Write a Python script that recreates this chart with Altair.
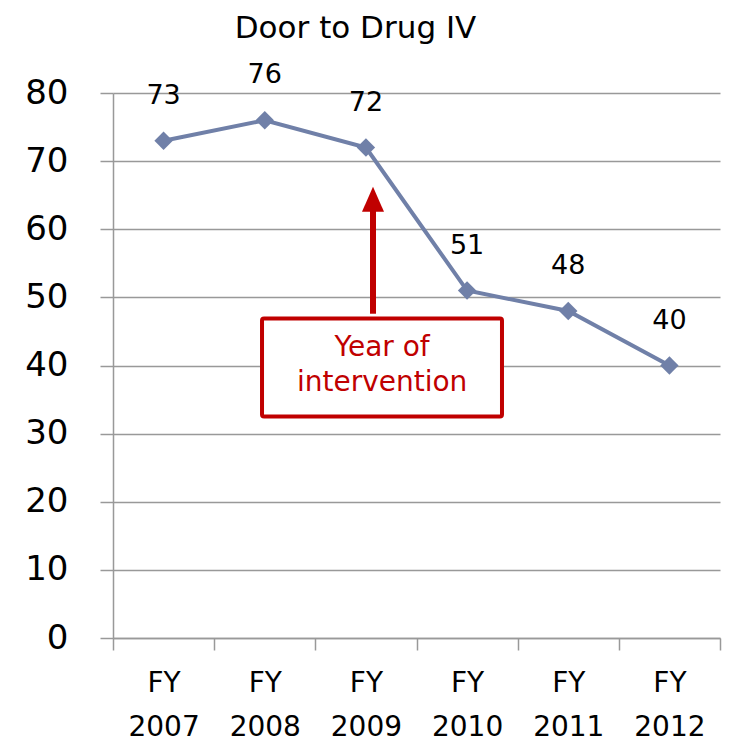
import altair as alt
import pandas as pd

years = ["FY 2007", "FY 2008", "FY 2009", "FY 2010", "FY 2011", "FY 2012"]
values = [73, 76, 72, 51, 48, 40]
y_ticks = [0, 10, 20, 30, 40, 50, 60, 70, 80]

# annotation (in band units 0..6 on x, data units on y)
box_x = [1.473]
box_x2 = [3.845]
box_y = [46.9]
box_y2 = [32.5]
arrow_x = [2.57]
arrow_y_bottom = [47.6]
arrow_y_top = [63.5]
arrow_head_y = [64.4]
note_text = ["Year of\nintervention"]
note_x = [2.66]
note_y = [42.6]

df = pd.DataFrame({"year": years, "value": values})
ann_box = pd.DataFrame({"x": box_x, "x2": box_x2, "y": box_y, "y2": box_y2})
ann_arrow = pd.DataFrame({"x": arrow_x, "y": arrow_y_bottom, "y2": arrow_y_top})
ann_head = pd.DataFrame({"x": arrow_x, "y": arrow_head_y})
ann_text = pd.DataFrame({"x": note_x, "y": note_y, "t": note_text})

FONT = "DejaVu Sans"
LINE = "#7080A8"
RED = "#C00000"
GRID = "#999999"

xscale = alt.Scale(paddingInner=0, paddingOuter=0)
yscale = alt.Scale(domain=[0, 80])

x_enc = alt.X("year:N", scale=xscale, sort=years, title=None,
              axis=alt.Axis(labelExpr="split(datum.label, ' ')", labelAngle=0,
                            tickBand="extent", labelFontSize=28, labelFont=FONT,
                            labelColor="black", labelLineHeight=44, labelPadding=19,
                            tickSize=12, tickColor=GRID, tickWidth=1.5,
                            domainColor=GRID, domainWidth=1.5, grid=False,
                            labelBaseline="top"))
y_enc = alt.Y("value:Q", scale=yscale, title=None,
              axis=alt.Axis(values=y_ticks, labelFontSize=34, labelFont=FONT,
                            labelColor="black", labelPadding=32, tickSize=13,
                            tickColor=GRID, tickWidth=1.5, domainColor=GRID,
                            domainWidth=1.5, gridColor=GRID, gridWidth=1.5))

base = alt.Chart(df)
line = base.mark_line(color=LINE, strokeWidth=4).encode(x=x_enc, y=y_enc)
pts = base.mark_point(shape="diamond", filled=True, color=LINE, size=340, opacity=1).encode(
    x=alt.X("year:N", sort=years), y="value:Q")
labels = base.mark_text(font=FONT, fontSize=27, dy=-45, color="black").encode(
    x=alt.X("year:N", sort=years), y="value:Q", text="value:Q")

ax = alt.Scale(domain=[0, 6])
ay = alt.Y("y:Q", scale=yscale, title=None)
box = alt.Chart(ann_box).mark_rect(fill="white", stroke=RED, strokeWidth=4, cornerRadius=2).encode(
    x=alt.X("x:Q", scale=ax, axis=None), x2="x2", y=ay, y2="y2")
shaft = alt.Chart(ann_arrow).mark_rule(color=RED, strokeWidth=6).encode(
    x=alt.X("x:Q", scale=ax, axis=None), y=ay, y2="y2")
head = alt.Chart(ann_head).mark_point(shape="M-0.88,1 L0,-1 L0.88,1 Z", filled=True, color=RED,
                                      size=625, opacity=1).encode(
    x=alt.X("x:Q", scale=ax, axis=None), y=ay)
note = alt.Chart(ann_text).mark_text(font=FONT, fontSize=28, color=RED, lineBreak="\n",
                                     lineHeight=35).encode(
    x=alt.X("x:Q", scale=ax, axis=None), y=ay, text="t:N")

main = alt.layer(line, pts, labels)
annot = alt.layer(box, shaft, head, note)

chart = alt.layer(main, annot).resolve_scale(x="independent").properties(
    width=607, height=545,
    title=alt.TitleParams("Door to Drug IV", font=FONT, fontSize=31, fontWeight="normal",
                          color="black", anchor="middle", dx=-61, offset=16),
    autosize=alt.AutoSizeParams(type="none"),
    padding={"left": 105, "top": 85, "right": 2, "bottom": 104},
).configure_view(stroke=None)

chart.save("out.html", embed_options={"renderer": "svg", "actions": False})
